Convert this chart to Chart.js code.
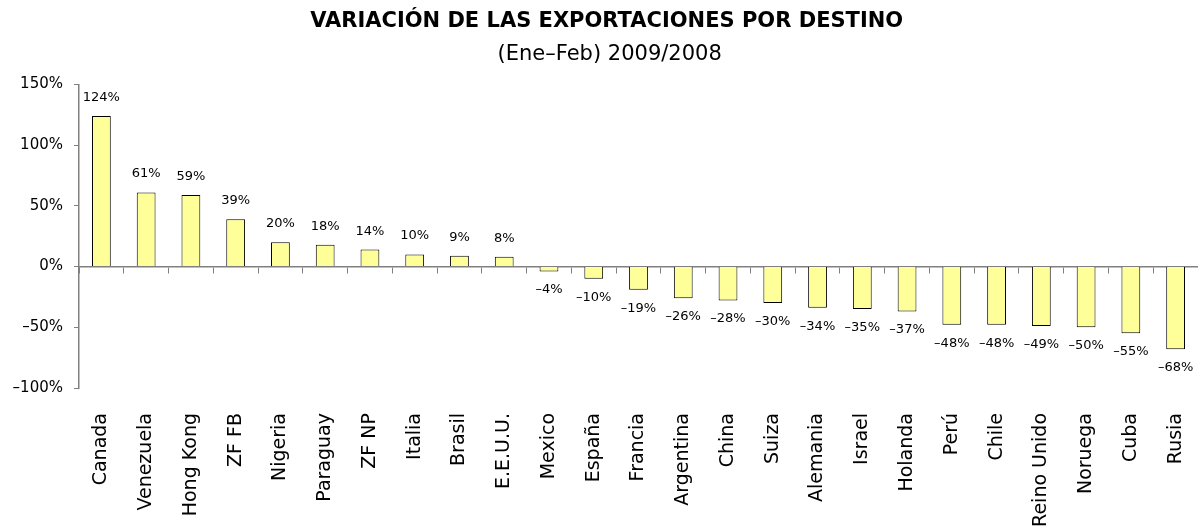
<!DOCTYPE html>
<html lang="es">
  <head>
    <meta charset="utf-8" />
    <title>Variación de las exportaciones por destino</title>
    <script src="https://cdn.jsdelivr.net/npm/chart.js@4.4.1/dist/chart.umd.min.js"></script>
    <style>
      body { margin: 0; background: #fff; }
      #wrap { width: 1198px; height: 530px; }
    </style>
  </head>
  <body>
    <div id="wrap">
      <canvas id="export_chart"></canvas>
    </div>
    <script>
      // datos
      const destinos = [
        "Canada", "Venezuela", "Hong Kong", "ZF FB", "Nigeria", "Paraguay", "ZF NP",
        "Italia", "Brasil", "E.E.U.U.", "Mexico", "España", "Francia", "Argentina",
        "China", "Suiza", "Alemania", "Israel", "Holanda", "Perú", "Chile",
        "Reino Unido", "Noruega", "Cuba", "Rusia"
      ];
      const variacion = [
        124, 61, 59, 39, 20, 18, 14, 10, 9, 8, -4, -10, -19, -26,
        -28, -30, -34, -35, -37, -48, -48, -49, -50, -55, -68
      ];
      const yTicks = [-100, -50, 0, 50, 100, 150];

      const FONT = "'DejaVu Sans', sans-serif";
      const AXIS_GREY = "#808080";

      function pct(v) {
        return (v < 0 ? "\u2013" + Math.abs(v) : "" + v) + "%";
      }

      // etiquetas de valor encima / debajo de cada barra
      const valueLabels = {
        id: "valueLabels",
        afterDatasetsDraw(chart) {
          const ctx = chart.ctx;
          const meta = chart.getDatasetMeta(0);
          ctx.save();
          ctx.font = "13px " + FONT;
          ctx.fillStyle = "#000";
          ctx.textAlign = "center";
          meta.data.forEach((bar, i) => {
            const v = variacion[i];
            if (v >= 0) {
              ctx.textBaseline = "alphabetic";
              ctx.fillText(pct(v), bar.x, bar.y - 15);
            } else {
              ctx.textBaseline = "top";
              ctx.fillText(pct(v), bar.x, bar.y + 12);
            }
          });
          ctx.restore();
        }
      };

      const config = {
        type: "bar",
        data: {
          labels: destinos,
          datasets: [
            {
              label: "Variación",
              data: variacion,
              backgroundColor: "rgb(255, 255, 153)",
              borderColor: "#000",
              borderWidth: 1,
              barPercentage: 0.42,
              categoryPercentage: 1.0,
            },
          ],
        },
        options: {
          responsive: true,
          maintainAspectRatio: false,
          animation: false,
          layout: { padding: { left: 8, right: 0, top: 0, bottom: 0 } },
          plugins: {
            legend: { display: false },
            tooltip: { enabled: false },
            title: {
              display: true,
              // un espacio delante: el original esta algo corrido a la derecha
              text: "\u00a0VARIACIÓN DE LAS EXPORTACIONES POR DESTINO",
              color: "#000",
              font: { family: FONT, size: 21, weight: "bold" },
              padding: { top: 9, bottom: 8 },
            },
            subtitle: {
              display: true,
              text: "\u00a0\u00a0(Ene\u2013Feb) 2009/2008",
              color: "#000",
              font: { family: FONT, size: 21 },
              padding: { bottom: 17 },
            },
          },
          scales: {
            x: {
              position: "bottom",
              grid: { display: false },
              border: { display: false },
              ticks: {
                autoSkip: false,
                minRotation: 90,
                maxRotation: 90,
                padding: 17,
                color: "#000",
                font: { family: FONT, size: 19 },
              },
              afterFit(axis) {
                axis.height = 142;
                axis.paddingLeft = 0;
                axis.paddingRight = 0;
              },
            },
            // eje en cero con marcas entre categorias
            x0: {
              type: "category",
              position: { y: 0 },
              grid: {
                offset: true,
                drawOnChartArea: false,
                drawTicks: true,
                tickLength: 6,
                color: AXIS_GREY,
              },
              border: { display: true, color: AXIS_GREY, width: 1.5 },
              ticks: { display: false },
            },
            y: {
              min: -100,
              max: 150,
              afterBuildTicks(axis) {
                axis.ticks = yTicks.map((v) => ({ value: v }));
              },
              afterFit(axis) {
                axis.width = 71;
              },
              grid: {
                drawOnChartArea: false,
                drawTicks: true,
                tickLength: 5,
                color: AXIS_GREY,
              },
              border: { display: true, color: AXIS_GREY, width: 1.5 },
              ticks: {
                padding: 11,
                color: "#000",
                font: { family: FONT, size: 15 },
                callback: (v) => pct(v),
              },
            },
          },
        },
        plugins: [valueLabels],
      };

      const exportChart = new Chart(document.getElementById("export_chart"), config);
    </script>
  </body>
</html>
